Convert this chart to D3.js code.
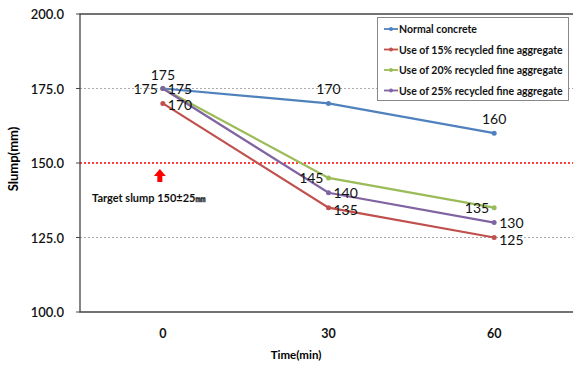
<!DOCTYPE html>
<html><head><meta charset="utf-8">
<script src="https://cdn.jsdelivr.net/npm/d3@7"></script>
<style>body{margin:0;background:#fff}svg{display:block}</style>
</head><body>
<script>
const categories = ["0", "30", "60"];
const seriesNames = ["Normal concrete", "Use of 15% recycled fine aggregate", "Use of 20% recycled fine aggregate", "Use of 25% recycled fine aggregate"];
const normalValues = [175, 170, 160];
const rfa15Values = [170, 135, 125];
const rfa20Values = [175, 145, 135];
const rfa25Values = [175, 140, 130];
const yTicks = [100, 125, 150, 175, 200];
const targetValue = 150;
const colors = ["#4F81BD", "#C0504D", "#9BBB59", "#8064A2"];
const labelPos = ["above", "right", "left", "right"];

const W = 573, H = 368;
const m = {l: 80, t: 14, r: -4, b: 56};
const font = "Lato, 'Open Sans', sans-serif";
const svg = d3.select("body").append("svg").attr("width", W).attr("height", H);

const x = d3.scaleBand().domain(categories).range([m.l, W - m.r]);
const xc = d => x(d) + x.bandwidth() / 2;
const y = d3.scaleLinear().domain([100, 200]).range([H - m.b, m.t]);

// gridlines
svg.selectAll(".grid").data(yTicks.filter(v => v !== 100 && v !== 200 && v !== targetValue)).enter()
  .append("line").attr("x1", m.l).attr("x2", W).attr("y1", d => y(d)).attr("y2", d => y(d))
  .attr("stroke", "#aaa").attr("stroke-width", 1).attr("stroke-dasharray", "2,2");
// target line
svg.append("line").attr("x1", m.l).attr("x2", W).attr("y1", y(targetValue)).attr("y2", y(targetValue))
  .attr("stroke", "#FF0000").attr("stroke-width", 1.5).attr("stroke-dasharray", "2,2");

// frame
svg.append("path").attr("d", `M${W},${m.t}H${m.l}V${y(100)}H${W}`).attr("fill", "none").attr("stroke", "#444").attr("stroke-width", 1.3);

// y axis labels
svg.selectAll(".yt").data(yTicks).enter().append("text")
  .attr("x", 64).attr("y", d => y(d) + 5).attr("text-anchor", "end")
  .attr("font-family", font).attr("font-size", 13).attr("font-weight", 600).attr("fill", "#111")
  .text(d => d.toFixed(1));
svg.selectAll(".ytk").data(yTicks).enter().append("line")
  .attr("x1", m.l - 4).attr("x2", m.l).attr("y1", d => y(d)).attr("y2", d => y(d)).attr("stroke", "#444");

// x labels
svg.selectAll(".xt").data(categories).enter().append("text")
  .attr("x", d => xc(d)).attr("y", 338).attr("text-anchor", "middle")
  .attr("font-family", font).attr("font-size", 12.5).attr("font-weight", 700).attr("fill", "#111")
  .text(d => d);

svg.append("text").attr("x", 296).attr("y", 359).attr("text-anchor", "middle")
  .attr("font-family", font).attr("font-size", 11.5).attr("font-weight", 700).text("Time(min)");
svg.append("text").attr("transform", `translate(18,159) rotate(-90)`).attr("text-anchor", "middle")
  .attr("font-family", font).attr("font-size", 13).attr("font-weight", 700).text("Slump(mm)");

// series
const allSeries = [normalValues, rfa15Values, rfa20Values, rfa25Values];
const line = d3.line().x((d, i) => xc(categories[i])).y(d => y(d));
allSeries.forEach((vals, s) => {
  svg.append("path").attr("d", line(vals)).attr("fill", "none").attr("stroke", colors[s]).attr("stroke-width", 2.2);
  svg.selectAll(".pt" + s).data(vals).enter().append("circle")
    .attr("cx", (d, i) => xc(categories[i])).attr("cy", d => y(d)).attr("r", 2.5).attr("fill", colors[s]);
});
// labels
allSeries.forEach((vals, s) => {
  vals.forEach((v, i) => {
    const pos = labelPos[s];
    let dx = 0, dy = 0, anchor = "middle";
    if (pos === "above") { dy = -9; }
    else if (pos === "left") { dx = -5; dy = 5; anchor = "end"; }
    else { dx = 5; dy = 5; anchor = "start"; }
    if (s === 1) dy = 7;
    svg.append("text").attr("x", xc(categories[i]) + dx).attr("y", y(v) + dy)
      .attr("text-anchor", anchor).attr("font-family", font).attr("font-size", 14).attr("fill", "#111").text(v);
  });
});

// target annotation
const ax = xc(categories[0]) - 3;
svg.append("path").attr("d", `M${ax},${y(targetValue) + 6} l-6,7 h3.5 v6 h5 v-6 h3.5 z`).attr("fill", "#FF0000");
svg.append("text").attr("x", 92).attr("y", 202).attr("font-family", font).attr("font-size", 11).attr("font-weight", 700)
  .attr("fill", "#111").text("Target slump 150±25㎜");

// legend
const lg = svg.append("g");
lg.append("rect").attr("x", 377.5).attr("y", 17.5).attr("width", 191).attr("height", 83).attr("fill", "#fff").attr("stroke", "#888");
seriesNames.forEach((n, i) => {
  const ly = 29 + i * 20.5;
  lg.append("line").attr("x1", 384).attr("x2", 398).attr("y1", ly).attr("y2", ly).attr("stroke", colors[i]).attr("stroke-width", 1.8);
  lg.append("circle").attr("cx", 391).attr("cy", ly).attr("r", 2).attr("fill", colors[i]);
  lg.append("text").attr("x", 399).attr("y", ly + 4).attr("font-family", font).attr("font-size", 10.5).attr("font-weight", 700)
    .attr("fill", "#111").text(n);
});
</script>
</body></html>
